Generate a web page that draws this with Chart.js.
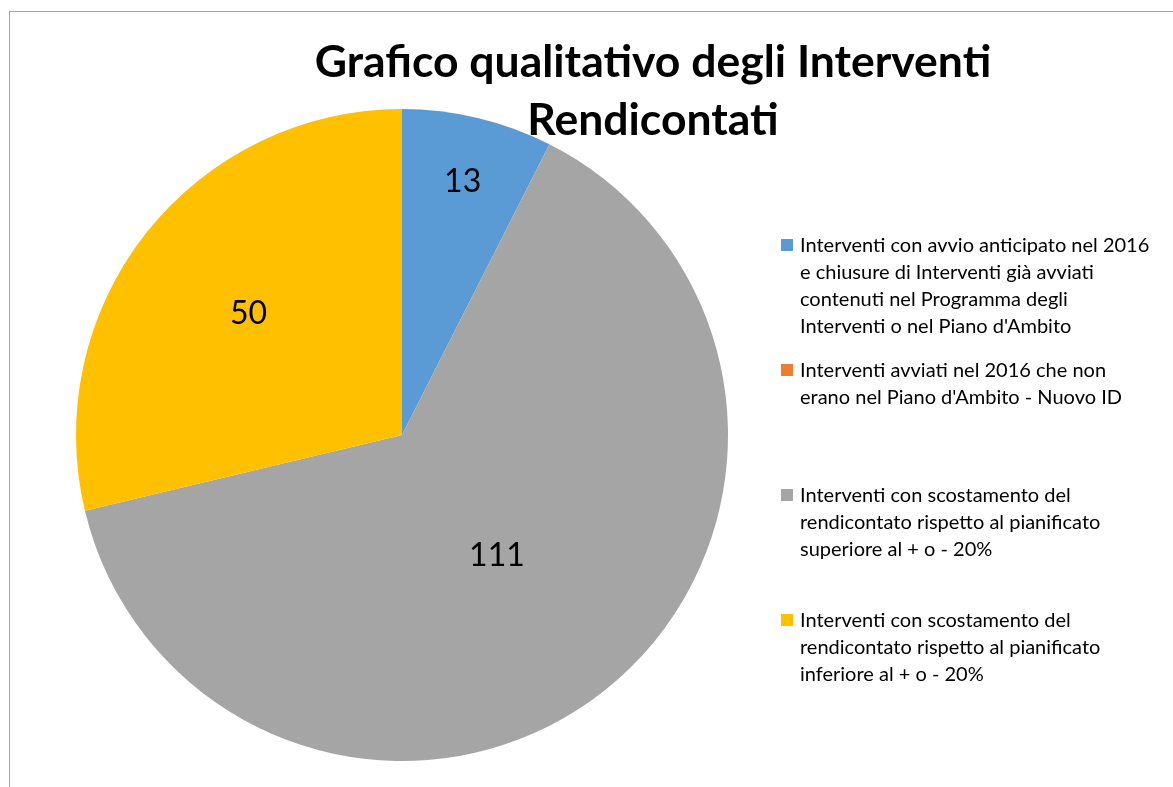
<!DOCTYPE html>
<html>
<head>
<meta charset="utf-8">
<script src="https://cdn.jsdelivr.net/npm/chart.js@4.4.1/dist/chart.umd.min.js"></script>
<style>
  html, body { margin: 0; padding: 0; background: #fff; }
  body { width: 1173px; height: 787px; position: relative; overflow: hidden; font-family: Lato, "Open Sans", sans-serif; }
  #frame { position: absolute; left: 9px; top: 11px; width: 1200px; height: 800px; border: 1px solid #a6a6a6; }
  #wrap { position: absolute; left: 0; top: 0; width: 1173px; height: 787px; }
  #title { position: absolute; left: 253px; top: 31px; width: 800px; text-align: center; font-weight: bold; font-size: 44.5px; line-height: 58px; color: #000; pointer-events: none; }
  #legend { position: absolute; left: 781px; top: 231px; }
  .item { position: absolute; left: 0; white-space: nowrap; font-size: 20px; line-height: 27px; color: #000; }
  .item .box { position: absolute; left: 0; top: 8px; width: 12px; height: 12px; }
  .item .txt { position: absolute; left: 19px; top: 0; }
</style>
</head>
<body>
<div id="frame"></div>
<div id="wrap"><canvas id="pieChart" width="1173" height="787"></canvas></div>
<div id="title">Grafico qualitativo degli Interventi<br>Rendicontati</div>
<div id="legend"></div>
<script>
var labels = [
  ["Interventi con avvio anticipato nel 2016", "e chiusure di Interventi già avviati", "contenuti nel Programma degli", "Interventi o nel Piano d'Ambito"],
  ["Interventi avviati nel 2016 che non", "erano nel Piano d'Ambito - Nuovo ID"],
  ["Interventi con scostamento del", "rendicontato rispetto al pianificato", "superiore al + o - 20%"],
  ["Interventi con scostamento del", "rendicontato rispetto al pianificato", "inferiore al + o - 20%"]
];
var values = [13, 0, 111, 50];
var colors = ["#5B9BD5", "#ED7D31", "#A5A5A5", "#FFC000"];
// how far from the centre each value label sits (fraction of radius)
var labelRadius = [0.8, 0.6, 0.47, 0.6];

// legend
var legend = document.getElementById("legend");
labels.forEach(function(lines, i) {
  var item = document.createElement("div");
  item.className = "item";
  item.style.top = (i * 125) + "px";
  item.innerHTML = '<div class="box" style="background:' + colors[i] + '"></div>' +
    '<div class="txt">' + lines.join("<br>") + '</div>';
  legend.appendChild(item);
});

var valueLabels = {
  id: "valueLabels",
  afterDatasetsDraw: function(chart) {
    var ctx = chart.ctx;
    var meta = chart.getDatasetMeta(0);
    ctx.save();
    ctx.font = "32px Lato, 'Open Sans', sans-serif";
    ctx.fillStyle = "#000";
    ctx.textAlign = "center";
    ctx.textBaseline = "middle";
    meta.data.forEach(function(arc, i) {
      if (!values[i]) return;
      var p = arc.getProps(["x", "y", "startAngle", "endAngle", "outerRadius"], true);
      var mid = (p.startAngle + p.endAngle) / 2;
      var r = p.outerRadius * labelRadius[i];
      ctx.fillText(String(values[i]), p.x + Math.cos(mid) * r, p.y + Math.sin(mid) * r);
    });
    ctx.restore();
  }
};

var ctx = document.getElementById("pieChart").getContext("2d");
window.pieChart = new Chart(ctx, {
  type: "pie",
  data: {
    labels: labels,
    datasets: [{
      data: values,
      backgroundColor: colors,
      borderWidth: 0
    }]
  },
  options: {
    responsive: false,
    animation: false,
    layout: { padding: { left: 76, right: 445, top: 109, bottom: 26 } },
    plugins: {
      legend: { display: false },
      title: { display: false },
      tooltip: { enabled: false }
    }
  },
  plugins: [valueLabels]
});
</script>
</body>
</html>
